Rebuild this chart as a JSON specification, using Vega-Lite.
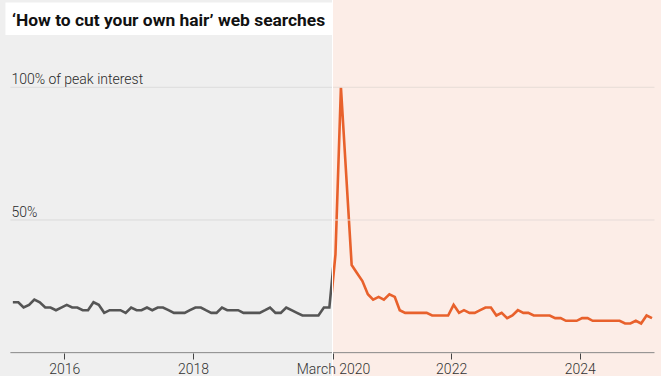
{
  "$schema": "https://vega.github.io/schema/vega-lite/v6.json",
  "background": "white",
  "padding": 0,
  "spacing": 1,
  "bounds": "flush",
  "config": {"view": {"stroke": null}, "font": "Roboto"},
  "datasets": {
    "series": [
      {"date": "2015-03-15", "v": 19}, {"date": "2015-04-15", "v": 19}, {"date": "2015-05-15", "v": 17}, {"date": "2015-06-15", "v": 18},
      {"date": "2015-07-15", "v": 20}, {"date": "2015-08-15", "v": 19}, {"date": "2015-09-15", "v": 17}, {"date": "2015-10-15", "v": 17},
      {"date": "2015-11-15", "v": 16}, {"date": "2015-12-15", "v": 17},
      {"date": "2016-01-15", "v": 18}, {"date": "2016-02-15", "v": 17}, {"date": "2016-03-15", "v": 17}, {"date": "2016-04-15", "v": 16},
      {"date": "2016-05-15", "v": 16}, {"date": "2016-06-15", "v": 19}, {"date": "2016-07-15", "v": 18}, {"date": "2016-08-15", "v": 15},
      {"date": "2016-09-15", "v": 16}, {"date": "2016-10-15", "v": 16}, {"date": "2016-11-15", "v": 16}, {"date": "2016-12-15", "v": 15},
      {"date": "2017-01-15", "v": 17}, {"date": "2017-02-15", "v": 16}, {"date": "2017-03-15", "v": 16}, {"date": "2017-04-15", "v": 17},
      {"date": "2017-05-15", "v": 16}, {"date": "2017-06-15", "v": 17}, {"date": "2017-07-15", "v": 17}, {"date": "2017-08-15", "v": 16},
      {"date": "2017-09-15", "v": 15}, {"date": "2017-10-15", "v": 15}, {"date": "2017-11-15", "v": 15}, {"date": "2017-12-15", "v": 16},
      {"date": "2018-01-15", "v": 17}, {"date": "2018-02-15", "v": 17}, {"date": "2018-03-15", "v": 16}, {"date": "2018-04-15", "v": 15},
      {"date": "2018-05-15", "v": 15}, {"date": "2018-06-15", "v": 17}, {"date": "2018-07-15", "v": 16}, {"date": "2018-08-15", "v": 16},
      {"date": "2018-09-15", "v": 16}, {"date": "2018-10-15", "v": 15}, {"date": "2018-11-15", "v": 15}, {"date": "2018-12-15", "v": 15},
      {"date": "2019-01-15", "v": 15}, {"date": "2019-02-15", "v": 16}, {"date": "2019-03-15", "v": 17}, {"date": "2019-04-15", "v": 15},
      {"date": "2019-05-15", "v": 15}, {"date": "2019-06-15", "v": 17}, {"date": "2019-07-15", "v": 16}, {"date": "2019-08-15", "v": 15},
      {"date": "2019-09-15", "v": 14}, {"date": "2019-10-15", "v": 14}, {"date": "2019-11-15", "v": 14}, {"date": "2019-12-15", "v": 14},
      {"date": "2020-01-15", "v": 17}, {"date": "2020-02-15", "v": 17}, {"date": "2020-03-15", "v": 37}, {"date": "2020-04-15", "v": 100},
      {"date": "2020-05-15", "v": 67}, {"date": "2020-06-15", "v": 33}, {"date": "2020-07-15", "v": 30}, {"date": "2020-08-15", "v": 27},
      {"date": "2020-09-15", "v": 22}, {"date": "2020-10-15", "v": 20}, {"date": "2020-11-15", "v": 21}, {"date": "2020-12-15", "v": 20},
      {"date": "2021-01-15", "v": 22}, {"date": "2021-02-15", "v": 21}, {"date": "2021-03-15", "v": 16}, {"date": "2021-04-15", "v": 15},
      {"date": "2021-05-15", "v": 15}, {"date": "2021-06-15", "v": 15}, {"date": "2021-07-15", "v": 15}, {"date": "2021-08-15", "v": 15},
      {"date": "2021-09-15", "v": 14}, {"date": "2021-10-15", "v": 14}, {"date": "2021-11-15", "v": 14}, {"date": "2021-12-15", "v": 14},
      {"date": "2022-01-15", "v": 18}, {"date": "2022-02-15", "v": 15}, {"date": "2022-03-15", "v": 16}, {"date": "2022-04-15", "v": 15},
      {"date": "2022-05-15", "v": 15}, {"date": "2022-06-15", "v": 16}, {"date": "2022-07-15", "v": 17}, {"date": "2022-08-15", "v": 17},
      {"date": "2022-09-15", "v": 14}, {"date": "2022-10-15", "v": 15}, {"date": "2022-11-15", "v": 13}, {"date": "2022-12-15", "v": 14},
      {"date": "2023-01-15", "v": 16}, {"date": "2023-02-15", "v": 15}, {"date": "2023-03-15", "v": 15}, {"date": "2023-04-15", "v": 14},
      {"date": "2023-05-15", "v": 14}, {"date": "2023-06-15", "v": 14}, {"date": "2023-07-15", "v": 14}, {"date": "2023-08-15", "v": 13},
      {"date": "2023-09-15", "v": 13}, {"date": "2023-10-15", "v": 12}, {"date": "2023-11-15", "v": 12}, {"date": "2023-12-15", "v": 12},
      {"date": "2024-01-15", "v": 13}, {"date": "2024-02-15", "v": 13}, {"date": "2024-03-15", "v": 12}, {"date": "2024-04-15", "v": 12},
      {"date": "2024-05-15", "v": 12}, {"date": "2024-06-15", "v": 12}, {"date": "2024-07-15", "v": 12}, {"date": "2024-08-15", "v": 12},
      {"date": "2024-09-15", "v": 11}, {"date": "2024-10-15", "v": 11}, {"date": "2024-11-15", "v": 12}, {"date": "2024-12-15", "v": 11},
      {"date": "2025-01-15", "v": 14}, {"date": "2025-02-15", "v": 13}
    ],
    "levels": [
      {"level": 50, "label": "50%"},
      {"level": 100, "label": "100% of peak interest"}
    ]
  },
  "hconcat": [
    {
      "width": 332,
      "height": 376,
      "view": {"fill": "#efefef", "stroke": null},
      "layer": [
        {
          "data": {"name": "series"},
          "mark": {"type": "line", "color": "#555555", "strokeWidth": 2.6, "clip": true},
          "encoding": {
            "x": {
              "field": "date", "type": "temporal",
              "scale": {"type": "utc", "domain": [{"year": 2015, "month": 1, "date": 1, "utc": true}, {"year": 2020, "month": 3, "date": 1, "utc": true}]},
              "axis": {
                "orient": "bottom", "offset": -23, "domain": false, "grid": false, "title": null,
                "values": [{"year": 2016, "month": 1, "date": 1, "utc": true}, {"year": 2018, "month": 1, "date": 1, "utc": true}],
                "format": "%Y", "formatType": "utc",
                "tickSize": 6, "tickColor": "#444444", "labelColor": "#333333", "labelFontSize": 14, "labelFont": "Roboto", "labelFontWeight": 300,
                "labelPadding": 3, "labelFlush": false, "labelOverlap": false
              }
            },
            "y": {"field": "v", "type": "quantitative", "scale": {"domain": [-8.8, 132.9], "nice": false, "zero": false}, "axis": null}
          }
        },
        {
          "data": {"name": "levels"},
          "mark": {"type": "rule", "color": "#dcdcdc", "strokeWidth": 1, "clip": true},
          "encoding": {
            "x": {"datum": {"year": 2015, "month": 3, "date": 1, "utc": true}, "type": "temporal"},
            "x2": {"datum": {"year": 2025, "month": 3, "date": 1, "utc": true}},
            "y": {"field": "level", "type": "quantitative"}
          }
        },
        {
          "data": {"name": "levels"},
          "mark": {"type": "text", "align": "left", "baseline": "alphabetic", "dx": 1, "dy": -3, "fontSize": 14, "fontWeight": 300, "font": "Roboto", "color": "#2a2a2a"},
          "encoding": {
            "x": {"datum": {"year": 2015, "month": 3, "date": 1, "utc": true}, "type": "temporal"},
            "y": {"field": "level", "type": "quantitative"},
            "text": {"field": "label"}
          }
        },
        {
          "data": {"values": [{}]},
          "mark": {"type": "rule", "color": "#888888", "strokeWidth": 1, "clip": true},
          "encoding": {
            "x": {"datum": {"year": 2015, "month": 3, "date": 1, "utc": true}, "type": "temporal"},
            "x2": {"datum": {"year": 2025, "month": 3, "date": 1, "utc": true}},
            "y": {"datum": 0, "type": "quantitative"}
          }
        },
        {
          "data": {"values": [{}]},
          "mark": {"type": "rect", "color": "white"},
          "encoding": {
            "x": {"datum": {"year": 2015, "month": 2, "date": 1, "utc": true}, "type": "temporal"},
            "x2": {"datum": {"year": 2020, "month": 3, "date": 1, "utc": true}},
            "y": {"datum": 132, "type": "quantitative"},
            "y2": {"datum": 119.7}
          }
        },
        {
          "data": {"values": [{}]},
          "mark": {"type": "text", "align": "left", "baseline": "alphabetic", "dx": 1.5, "fontSize": 17.4, "fontWeight": "bold", "font": "Roboto", "color": "#111111"},
          "encoding": {
            "x": {"datum": {"year": 2015, "month": 3, "date": 1, "utc": true}, "type": "temporal"},
            "y": {"datum": 123.1, "type": "quantitative"},
            "text": {"value": "‘How to cut your own hair’ web searches"}
          }
        }
      ]
    },
    {
      "width": 328,
      "height": 376,
      "view": {"fill": "#fcede7", "stroke": null},
      "layer": [
        {
          "data": {"name": "series"},
          "mark": {"type": "line", "color": "#e8612c", "strokeWidth": 2.6, "clip": true},
          "encoding": {
            "x": {
              "field": "date", "type": "temporal",
              "scale": {"type": "utc", "domain": [{"year": 2020, "month": 3, "date": 1, "utc": true}, {"year": 2025, "month": 4, "date": 7, "utc": true}]},
              "axis": {
                "orient": "bottom", "offset": -23, "domain": false, "grid": false, "title": null,
                "values": [{"year": 2020, "month": 3, "date": 1, "utc": true}, {"year": 2022, "month": 1, "date": 1, "utc": true}, {"year": 2024, "month": 1, "date": 1, "utc": true}],
                "labelExpr": "utcFormat(datum.value, '%m') == '03' ? 'March ' + utcFormat(datum.value, '%Y') : utcFormat(datum.value, '%Y')",
                "tickSize": 6, "tickColor": "#444444", "labelColor": "#333333", "labelFontSize": 14, "labelFont": "Roboto", "labelFontWeight": 300,
                "labelPadding": 3, "labelFlush": false, "labelOverlap": false
              }
            },
            "y": {"field": "v", "type": "quantitative", "scale": {"domain": [-8.8, 132.9], "nice": false, "zero": false}, "axis": null}
          }
        },
        {
          "data": {"name": "levels"},
          "mark": {"type": "rule", "color": "#e6dcd8", "strokeWidth": 1, "clip": true},
          "encoding": {
            "x": {"datum": {"year": 2015, "month": 3, "date": 1, "utc": true}, "type": "temporal"},
            "x2": {"datum": {"year": 2025, "month": 3, "date": 1, "utc": true}},
            "y": {"field": "level", "type": "quantitative"}
          }
        },
        {
          "data": {"values": [{}]},
          "mark": {"type": "rule", "color": "#888888", "strokeWidth": 1, "clip": true},
          "encoding": {
            "x": {"datum": {"year": 2015, "month": 3, "date": 1, "utc": true}, "type": "temporal"},
            "x2": {"datum": {"year": 2025, "month": 3, "date": 1, "utc": true}},
            "y": {"datum": 0, "type": "quantitative"}
          }
        }
      ]
    }
  ]
}
